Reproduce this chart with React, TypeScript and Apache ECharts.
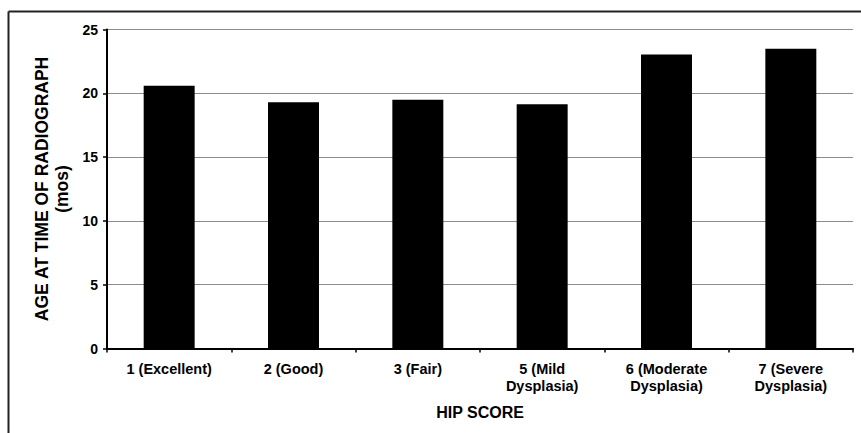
import React, { useEffect, useRef } from "react";
import * as echarts from "echarts";

const categories = [
  "1 (Excellent)",
  "2 (Good)",
  "3 (Fair)",
  "5 (Mild\nDysplasia)",
  "6 (Moderate\nDysplasia)",
  "7 (Severe\nDysplasia)",
];
const ageValues = [20.6, 19.3, 19.5, 19.15, 23.05, 23.5];
const yTicks = { min: 0, max: 25, interval: 5 };

const FONT = "'Liberation Sans', Arial, sans-serif";

export default function App() {
  const ref = useRef<HTMLDivElement>(null);
  useEffect(() => {
    if (!ref.current) return;
    const chart = echarts.init(ref.current, null, { renderer: "svg" });
    chart.setOption({
      animation: false,
      backgroundColor: "#ffffff",
      textStyle: { fontFamily: FONT },
      grid: { left: 107, right: 8, top: 29.5, bottom: 84.5, containLabel: false },
      graphic: [
        {
          type: "line",
          shape: { x1: 8.5, y1: 11.5, x2: 861, y2: 11.5 },
          style: { stroke: "#222222", lineWidth: 2 },
          silent: true,
        },
        {
          type: "line",
          shape: { x1: 8.5, y1: 11.5, x2: 8.5, y2: 433 },
          style: { stroke: "#222222", lineWidth: 2 },
          silent: true,
        },
      ],
      xAxis: {
        type: "category",
        data: categories,
        boundaryGap: true,
        name: "HIP SCORE",
        nameLocation: "middle",
        nameGap: 56,
        nameTextStyle: { fontFamily: FONT, fontWeight: "bold", fontSize: 16, color: "#000" },
        axisLine: { show: true, lineStyle: { color: "#000", width: 2 } },
        axisTick: { show: true, length: 4, lineStyle: { color: "#000", width: 1.5 } },
        axisLabel: {
          interval: 0,
          margin: 12,
          fontFamily: FONT,
          fontWeight: "bold",
          fontSize: 14.5,
          lineHeight: 17,
          color: "#000",
        },
        splitLine: { show: false },
      },
      yAxis: {
        type: "value",
        min: yTicks.min,
        max: yTicks.max,
        interval: yTicks.interval,
        name: "AGE AT TIME OF RADIOGRAPH\n(mos)",
        nameLocation: "middle",
        nameGap: 30,
        nameTextStyle: {
          fontFamily: FONT,
          fontWeight: "bold",
          fontSize: 17.5,
          lineHeight: 20,
          color: "#000",
        },
        axisLine: { show: true, lineStyle: { color: "#000", width: 2 } },
        axisTick: { show: true, length: 4, lineStyle: { color: "#000", width: 1.5 } },
        axisLabel: {
          margin: 9,
          fontFamily: FONT,
          fontWeight: "bold",
          fontSize: 14,
          color: "#000",
        },
        splitLine: { show: true, lineStyle: { color: "#8c8c8c", width: 1 } },
      },
      series: [
        {
          type: "bar",
          data: ageValues,
          barWidth: "41%",
          itemStyle: { color: "#000000" },
        },
      ],
    });
    return () => chart.dispose();
  }, []);
  return (
    <div
      ref={ref}
      style={{ position: "fixed", left: 0, top: 0, width: 861, height: 433 }}
    />
  );
}
